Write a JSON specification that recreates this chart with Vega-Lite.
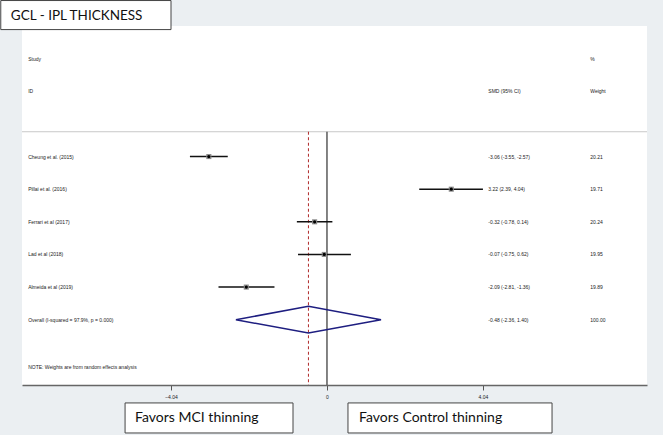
{
  "$schema": "https://vega.github.io/schema/vega-lite/v6.json",
  "width": 625,
  "height": 359,
  "autosize": {"type": "none"},
  "padding": {"left": 22, "top": 26, "right": 16, "bottom": 50},
  "background": "#ebeff2",
  "config": {
    "view": {"stroke": null, "fill": "#ffffff"},
    "text": {"font": "Liberation Sans", "fontSize": 5, "color": "#222222"}
  },
  "datasets": {
    "one": [{}],
    "studies": [
      {"study": "Cheung et al. (2015)", "row": 1, "smd": -3.06, "lo": -3.55, "hi": -2.57, "ci": "-3.06 (-3.55, -2.57)", "weight": "20.21"},
      {"study": "Pillai et al. (2016)", "row": 2, "smd": 3.22, "lo": 2.39, "hi": 4.04, "ci": "3.22 (2.39, 4.04)", "weight": "19.71"},
      {"study": "Ferrari et al (2017)", "row": 3, "smd": -0.32, "lo": -0.78, "hi": 0.14, "ci": "-0.32 (-0.78, 0.14)", "weight": "20.24"},
      {"study": "Lad et al (2018)", "row": 4, "smd": -0.07, "lo": -0.75, "hi": 0.62, "ci": "-0.07 (-0.75, 0.62)", "weight": "19.95"},
      {"study": "Almeida et al (2019)", "row": 5, "smd": -2.09, "lo": -2.81, "hi": -1.36, "ci": "-2.09 (-2.81, -1.36)", "weight": "19.89"},
      {"study": "Overall  (I-squared = 97.9%, p = 0.000)", "row": 6, "smd": -0.48, "lo": -2.36, "hi": 1.40, "ci": "-0.48 (-2.36, 1.40)", "weight": "100.00"}
    ],
    "diamond": [
      {"k": 1, "x": -2.36, "y": 6},
      {"k": 2, "x": -0.48, "y": 5.59},
      {"k": 3, "x": 1.40, "y": 6},
      {"k": 4, "x": -0.48, "y": 6.41},
      {"k": 5, "x": -2.36, "y": 6}
    ],
    "headers": [
      {"col": "study", "row": -2, "label": "Study"},
      {"col": "study", "row": -1, "label": "ID"},
      {"col": "ci", "row": -1, "label": "SMD (95% CI)"},
      {"col": "weight", "row": -2, "label": "%"},
      {"col": "weight", "row": -1, "label": "Weight"},
      {"col": "study", "row": 7.45, "label": "NOTE: Weights are from random effects analysis"}
    ]
  },
  "layer": [
    {
      "data": {"name": "one"},
      "mark": {"type": "rule", "color": "#c8c8c8", "strokeWidth": 1},
      "encoding": {
        "y": {"datum": 0.24, "type": "quantitative", "scale": {"domain": [-3, 8], "reverse": true, "nice": false, "zero": false}, "axis": null}
      }
    },
    {
      "data": {"name": "one"},
      "mark": {"type": "rule", "color": "#5a5a5a", "strokeWidth": 1.5},
      "encoding": {
        "x": {"datum": 0, "type": "quantitative"},
        "y": {"datum": 0.24, "type": "quantitative"},
        "y2": {"datum": 8}
      }
    },
    {
      "data": {"name": "one"},
      "mark": {"type": "rule", "color": "#b02a2a", "strokeWidth": 1, "strokeDash": [3, 2.5]},
      "encoding": {
        "x": {"datum": -0.48, "type": "quantitative"},
        "y": {"datum": 0.24, "type": "quantitative"},
        "y2": {"datum": 8}
      }
    },
    {
      "data": {"name": "studies"},
      "transform": [{"filter": "datum.row <= 5"}],
      "mark": {"type": "rule", "color": "#111111", "strokeWidth": 1.5},
      "encoding": {
        "x": {
          "field": "lo", "type": "quantitative",
          "scale": {"domain": [-7.9, 8.29], "nice": false, "zero": false},
          "axis": {
            "values": [-4.04, 0, 4.04],
            "labelExpr": "datum.value == 0 ? '0' : format(datum.value, '.2f')",
            "grid": false, "title": null,
            "domainColor": "#666666", "domainWidth": 1.5,
            "tickColor": "#555555", "tickSize": 5, "tickWidth": 1,
            "labelFont": "Liberation Sans", "labelFontSize": 5, "labelColor": "#222222", "labelPadding": 4
          }
        },
        "x2": {"field": "hi"},
        "y": {"field": "row", "type": "quantitative"}
      }
    },
    {
      "data": {"name": "studies"},
      "transform": [{"filter": "datum.row <= 5"}],
      "mark": {"type": "point", "shape": "square", "filled": true, "color": "#8c8c8c", "size": 26, "opacity": 1},
      "encoding": {
        "x": {"field": "smd", "type": "quantitative"},
        "y": {"field": "row", "type": "quantitative"}
      }
    },
    {
      "data": {"name": "studies"},
      "transform": [{"filter": "datum.row <= 5"}],
      "mark": {"type": "point", "shape": "circle", "filled": true, "color": "#000000", "size": 10, "opacity": 1},
      "encoding": {
        "x": {"field": "smd", "type": "quantitative"},
        "y": {"field": "row", "type": "quantitative"}
      }
    },
    {
      "data": {"name": "diamond"},
      "mark": {"type": "line", "color": "#1e1e80", "strokeWidth": 1.5},
      "encoding": {
        "x": {"field": "x", "type": "quantitative"},
        "y": {"field": "y", "type": "quantitative"},
        "order": {"field": "k"}
      }
    },
    {
      "data": {"name": "studies"},
      "mark": {"type": "text", "align": "left", "baseline": "middle"},
      "encoding": {
        "x": {"datum": -7.74, "type": "quantitative"},
        "y": {"field": "row", "type": "quantitative"},
        "text": {"field": "study"}
      }
    },
    {
      "data": {"name": "studies"},
      "mark": {"type": "text", "align": "left", "baseline": "middle"},
      "encoding": {
        "x": {"datum": 4.18, "type": "quantitative"},
        "y": {"field": "row", "type": "quantitative"},
        "text": {"field": "ci"}
      }
    },
    {
      "data": {"name": "studies"},
      "mark": {"type": "text", "align": "left", "baseline": "middle"},
      "encoding": {
        "x": {"datum": 6.82, "type": "quantitative"},
        "y": {"field": "row", "type": "quantitative"},
        "text": {"field": "weight"}
      }
    },
    {
      "data": {"name": "headers"},
      "transform": [{"filter": "datum.col == 'study'"}],
      "mark": {"type": "text", "align": "left", "baseline": "middle"},
      "encoding": {
        "x": {"datum": -7.74, "type": "quantitative"},
        "y": {"field": "row", "type": "quantitative"},
        "text": {"field": "label"}
      }
    },
    {
      "data": {"name": "headers"},
      "transform": [{"filter": "datum.col == 'ci'"}],
      "mark": {"type": "text", "align": "left", "baseline": "middle"},
      "encoding": {
        "x": {"datum": 4.18, "type": "quantitative"},
        "y": {"field": "row", "type": "quantitative"},
        "text": {"field": "label"}
      }
    },
    {
      "data": {"name": "headers"},
      "transform": [{"filter": "datum.col == 'weight'"}],
      "mark": {"type": "text", "align": "left", "baseline": "middle"},
      "encoding": {
        "x": {"datum": 6.82, "type": "quantitative"},
        "y": {"field": "row", "type": "quantitative"},
        "text": {"field": "label"}
      }
    },
    {
      "data": {"name": "one"},
      "mark": {"type": "rect", "fill": "#ffffff", "stroke": "#444444", "strokeWidth": 1},
      "encoding": {
        "x": {"datum": -8.45, "type": "quantitative"},
        "x2": {"datum": -4.04},
        "y": {"datum": -3.78, "type": "quantitative"},
        "y2": {"datum": -2.89}
      }
    },
    {
      "data": {"name": "one"},
      "mark": {"type": "text", "align": "left", "baseline": "middle", "font": "Lato", "fontSize": 13.5, "color": "#111111", "text": "GCL - IPL THICKNESS"},
      "encoding": {
        "x": {"datum": -8.19, "type": "quantitative"},
        "y": {"datum": -3.31, "type": "quantitative"}
      }
    },
    {
      "data": {"name": "one"},
      "mark": {"type": "rect", "fill": "#ffffff", "stroke": "#444444", "strokeWidth": 1},
      "encoding": {
        "x": {"datum": -5.23, "type": "quantitative"},
        "x2": {"datum": -0.88},
        "y": {"datum": 8.55, "type": "quantitative"},
        "y2": {"datum": 9.47}
      }
    },
    {
      "data": {"name": "one"},
      "mark": {"type": "text", "align": "left", "baseline": "middle", "font": "Lato", "fontSize": 14, "color": "#111111", "text": "Favors MCI thinning"},
      "encoding": {
        "x": {"datum": -4.97, "type": "quantitative"},
        "y": {"datum": 9.01, "type": "quantitative"}
      }
    },
    {
      "data": {"name": "one"},
      "mark": {"type": "rect", "fill": "#ffffff", "stroke": "#444444", "strokeWidth": 1},
      "encoding": {
        "x": {"datum": 0.544, "type": "quantitative"},
        "x2": {"datum": 5.83},
        "y": {"datum": 8.55, "type": "quantitative"},
        "y2": {"datum": 9.47}
      }
    },
    {
      "data": {"name": "one"},
      "mark": {"type": "text", "align": "left", "baseline": "middle", "font": "Lato", "fontSize": 14, "color": "#111111", "text": "Favors Control thinning"},
      "encoding": {
        "x": {"datum": 0.83, "type": "quantitative"},
        "y": {"datum": 9.01, "type": "quantitative"}
      }
    }
  ]
}
